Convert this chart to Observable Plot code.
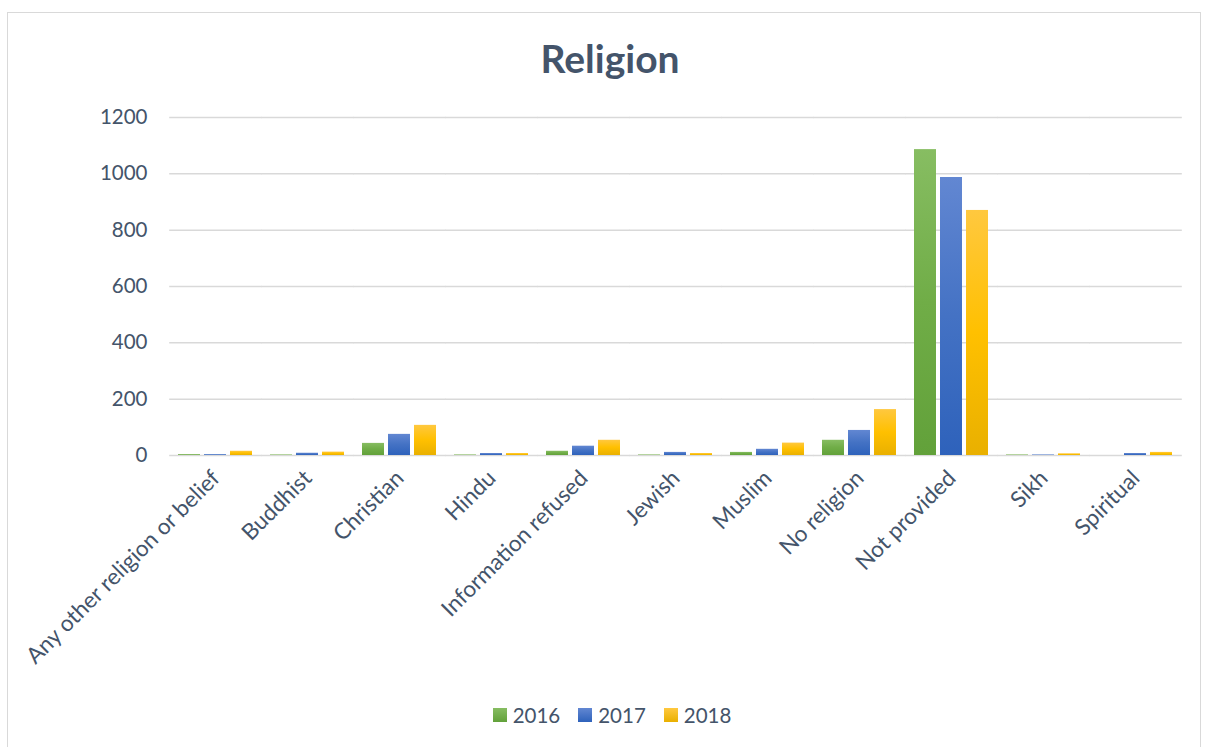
<!DOCTYPE html>
<html><head><meta charset="utf-8">
<script src="https://cdn.jsdelivr.net/npm/d3@7"></script>
<script src="https://cdn.jsdelivr.net/npm/@observablehq/plot@0.6"></script>
<style>
body{margin:0;background:#fff;font-family:Lato,"Open Sans",sans-serif;}
#frame{position:absolute;left:7px;top:12px;width:1194px;height:740px;border:1.5px solid #d9d9d9;box-sizing:border-box;}
#title{position:absolute;left:0;width:1220px;top:35px;text-align:center;font-size:39px;font-weight:bold;color:#44546a;}
#chart{position:absolute;left:0;top:0;}
#legend{position:absolute;top:703px;left:0;width:1224px;display:flex;justify-content:center;gap:18px;font-size:20.5px;color:#44546a;}
#legend span.item{display:flex;align-items:center;gap:6px;}
#legend span.sw{display:inline-block;width:14px;height:14px;}
</style>
</head><body>
<div id="frame"></div>
<div id="title">Religion</div>
<div id="chart"></div>
<div id="legend"></div>
<script>
const categories = ["Any other religion or belief","Buddhist","Christian","Hindu","Information refused","Jewish","Muslim","No religion","Not provided","Sikh","Spiritual"];
const years = ["2016","2017","2018"];
const values2016 = [3,2,43,2,15,2,11,54,1086,2,0];
const values2017 = [3,8,75,7,33,11,22,89,987,2,7];
const values2018 = [15,12,107,7,54,7,44,163,870,6,11];
const yTicks = [0,200,400,600,800,1000,1200];
const seriesColors = ["#70ad47","#4472c4","#ffc000"];
const gradTop = ["#87bd62","#6287d2","#ffc83f"];
const gradBottom = ["#62a13a","#2e62bb","#e9b000"];

const series = [values2016, values2017, values2018];
const data = categories.flatMap((c,i) => years.map((y,j) => ({category:c, year:y, value:series[j][i]})));

const plot = Plot.plot({
  width: 1205, height: 690,
  marginLeft: 167, marginRight: 22, marginTop: 117, marginBottom: 235,
  style: {fontFamily: "Lato, 'Open Sans', sans-serif", fontSize: "20.5px", color: "#44546a", background: "transparent", overflow: "visible"},
  fx: {domain: categories, paddingInner: 0.19, paddingOuter: 0.095, label: null},
  x: {domain: years, paddingInner: 0.14, paddingOuter: 0, axis: null},
  y: {domain: [0, 1200], label: null},
  color: {domain: years, range: years.map(y => `url(#grad${y})`)},
  marks: [
    Plot.gridY(yTicks, {stroke: "#d9d9d9", strokeOpacity: 1, strokeWidth: 1.5, insetLeft: -8.8, insetRight: -8.8}),
    Plot.barY(data, {fx: "category", x: "year", y: "value", fill: "year"}),
    Plot.axisY(yTicks, {tickSize: 0, tickPadding: 31, tickFormat: d3.format("d"), label: null}),
    Plot.axisFx({anchor: "bottom", tickRotate: -45, tickSize: 0, tickPadding: 19, fontSize: 22.5, label: null})
  ]
});

// gradients for bars
const ns = "http://www.w3.org/2000/svg";
const defs = document.createElementNS(ns, "defs");
years.forEach((y, i) => {
  const g = document.createElementNS(ns, "linearGradient");
  g.setAttribute("id", `grad${y}`);
  g.setAttribute("x1", "0"); g.setAttribute("y1", "0");
  g.setAttribute("x2", "0"); g.setAttribute("y2", "1");
  [[0, gradTop[i]], [0.5, seriesColors[i]], [1, gradBottom[i]]].forEach(([o, c]) => {
    const s = document.createElementNS(ns, "stop");
    s.setAttribute("offset", o); s.setAttribute("stop-color", c);
    g.appendChild(s);
  });
  defs.appendChild(g);
});
plot.insertBefore(defs, plot.firstChild);
document.getElementById("chart").appendChild(plot);

const legend = document.getElementById("legend");
years.forEach((y, i) => {
  const item = document.createElement("span");
  item.className = "item";
  item.innerHTML = `<span class="sw" style="background:linear-gradient(${gradTop[i]},${gradBottom[i]})"></span><span>${y}</span>`;
  legend.appendChild(item);
});
</script>
</body></html>
